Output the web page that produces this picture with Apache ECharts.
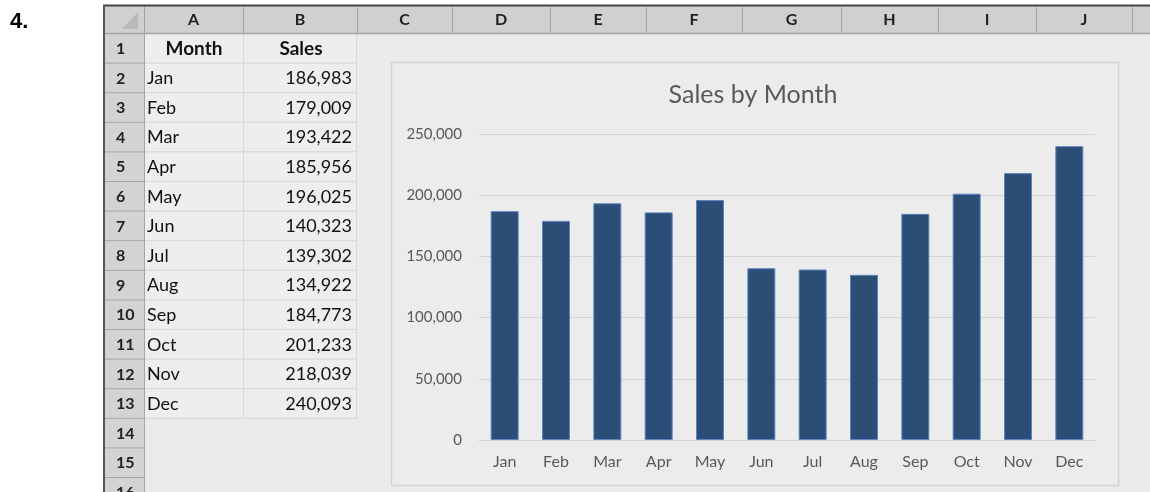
<!DOCTYPE html>
<html>
<head>
<meta charset="utf-8">
<script src="https://cdn.jsdelivr.net/npm/echarts@6/dist/echarts.min.js"></script>
<style>
html,body{margin:0;padding:0;background:#fff;}
#c{width:1150px;height:492px;}
</style>
</head>
<body>
<div id="c"></div>
<script>
// ---- data ----
const months = ['Jan','Feb','Mar','Apr','May','Jun','Jul','Aug','Sep','Oct','Nov','Dec'];
const sales = [186983,179009,193422,185956,196025,140323,139302,134922,184773,201233,218039,240093];
const yTicks = [0, 50000, 100000, 150000, 200000, 250000];
const colLetters = ['A','B','C','D','E','F','G','H','I','J'];
const headerRow = ['Month','Sales'];
const chartTitle = 'Sales by Month';
const problemNumber = '4.';

// ---- layout (sheet geometry) ----
const colEdges = [105,144,243,357,452,550,646,742,841,938,1036,1132,1150];
const headTop = 5, headBot = 33, rowH = 29.6;
const FONT = 'Lato, "Open Sans", sans-serif';
const fmt = v => v.toLocaleString('en-US');

const g = [];
// outside number
g.push({type:'text', x:10, y:22, z:10, style:{text:problemNumber, font:'bold 22px "Liberation Sans", Arial', fill:'#000', verticalAlign:'middle'}});
// sheet background
g.push({type:'rect', z:-5, shape:{x:104, y:headTop, width:1046, height:492-headTop}, style:{fill:'#ebebeb'}});
// column header band
g.push({type:'rect', z:-4, shape:{x:104, y:headTop, width:1046, height:headBot-headTop}, style:{fill:'#d0d0d0'}});
// row header band
g.push({type:'rect', z:-4, shape:{x:104, y:headBot, width:40, height:492-headBot}, style:{fill:'#d3d3d3'}});
// corner triangle
g.push({type:'polygon', z:-3, shape:{points:[[138,12],[138,29],[122,29]]}, style:{fill:'#bababa'}});
// data cells A1:B13
for (let r = 0; r < 13; r++) {
  const y = headBot + r*rowH;
  g.push({type:'rect', z:-3, shape:{x:144.5, y:y+0.5, width:212, height:rowH}, style:{fill:'#eeeeee', stroke:'#d9d9d9', lineWidth:1}});
  g.push({type:'line', z:-3, shape:{x1:243.5, y1:y, x2:243.5, y2:y+rowH}, style:{stroke:'#d9d9d9', lineWidth:1}});
}
// column header separators and letters
for (let i = 1; i < colEdges.length-1; i++) {
  g.push({type:'line', z:-2, shape:{x1:colEdges[i]+0.5, y1:headTop+2, x2:colEdges[i]+0.5, y2:headBot}, style:{stroke:'#a5a5a5', lineWidth:1}});
}
g.push({type:'line', z:-2, shape:{x1:104, y1:headBot+0.5, x2:1150, y2:headBot+0.5}, style:{stroke:'#a5a5a5', lineWidth:1.5}});
colLetters.forEach((L, i) => {
  g.push({type:'text', z:10, x:(colEdges[i+1]+colEdges[i+2])/2, y:(headTop+headBot)/2+1, style:{text:L, font:'bold 16px ' + FONT, fill:'#222', align:'center', verticalAlign:'middle'}});
});
// row header separators and numbers
for (let r = 0; r < 16; r++) {
  const y = headBot + r*rowH;
  g.push({type:'line', z:-2, shape:{x1:104, y1:y+rowH+0.5, x2:144, y2:y+rowH+0.5}, style:{stroke:'#a5a5a5', lineWidth:1}});
  g.push({type:'text', z:10, x:116, y:y+rowH/2+1, style:{text:String(r+1), font:'bold 16px ' + FONT, fill:'#222', align:'left', verticalAlign:'middle'}});
}
g.push({type:'line', z:-2, shape:{x1:144.5, y1:headTop, x2:144.5, y2:492}, style:{stroke:'#a5a5a5', lineWidth:1}});
// dark frame lines
g.push({type:'line', z:5, shape:{x1:103, y1:5.5, x2:1150, y2:5.5}, style:{stroke:'#444', lineWidth:2}});
g.push({type:'line', z:5, shape:{x1:104, y1:5, x2:104, y2:492}, style:{stroke:'#555', lineWidth:2}});
// table header
g.push({type:'text', z:10, x:194, y:headBot+rowH/2+1, style:{text:headerRow[0], font:'bold 19px ' + FONT, fill:'#111', align:'center', verticalAlign:'middle'}});
g.push({type:'text', z:10, x:301, y:headBot+rowH/2+1, style:{text:headerRow[1], font:'bold 19px ' + FONT, fill:'#111', align:'center', verticalAlign:'middle'}});
// table body
months.forEach((m, i) => {
  const yc = headBot + (i+1)*rowH + rowH/2 + 1;
  g.push({type:'text', z:10, x:147, y:yc, style:{text:m, font:'18px ' + FONT, fill:'#111', align:'left', verticalAlign:'middle'}});
  g.push({type:'text', z:10, x:352, y:yc, style:{text:fmt(sales[i]), font:'18px ' + FONT, fill:'#111', align:'right', verticalAlign:'middle'}});
});
// chart area box
g.push({type:'rect', z:-1, shape:{x:391.5, y:62.5, width:727, height:423}, style:{fill:'#ececec', stroke:'#d3d3d3', lineWidth:1.5}});
// chart title
g.push({type:'text', z:10, x:753, y:95, style:{text:chartTitle, font:'25px ' + FONT, fill:'#595959', align:'center', verticalAlign:'middle'}});

const chart = echarts.init(document.getElementById('c'), null, {renderer:'canvas'});
chart.setOption({
  animation:false,
  backgroundColor:'#ffffff',
  graphic:{elements:g},
  grid:{left:479, right:55, top:134, bottom:52, containLabel:false},
  xAxis:{
    type:'category', data:months,
    axisLine:{show:true, lineStyle:{color:'#d6d6d6', width:1}},
    axisTick:{show:false},
    axisLabel:{margin:14, fontSize:16, color:'#595959', fontFamily:FONT},
    z:3
  },
  yAxis:{
    type:'value', min:yTicks[0], max:yTicks[yTicks.length-1], interval:yTicks[1]-yTicks[0],
    axisLine:{show:false}, axisTick:{show:false},
    axisLabel:{margin:17, fontSize:15, color:'#595959', fontFamily:FONT, formatter:v => fmt(v)},
    splitLine:{lineStyle:{color:'#d6d6d6', width:1}},
    z:3
  },
  series:[{
    type:'bar', data:sales, barWidth:28, z:4,
    itemStyle:{color:'#2c4d75', borderColor:'#5b86c0', borderWidth:1}
  }]
});
</script>
</body>
</html>
